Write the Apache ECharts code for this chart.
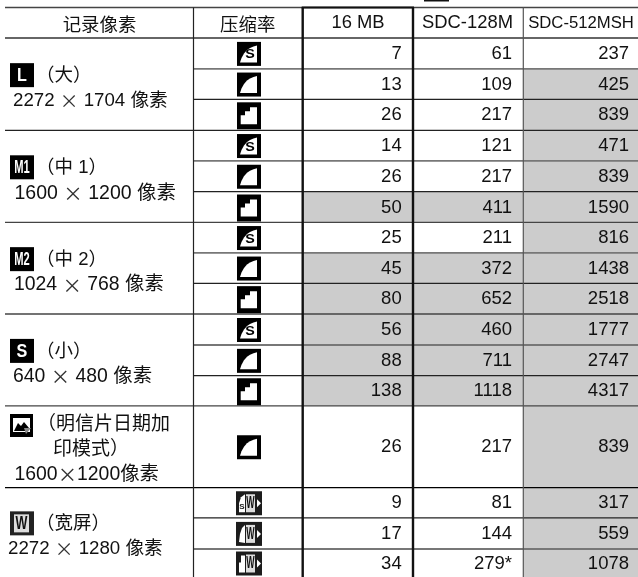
<!DOCTYPE html>
<html>
<head>
<meta charset="utf-8">
<title>记录像素</title>
<script src="https://cdn.jsdelivr.net/npm/echarts@6/dist/echarts.min.js"></script>
<style>
  html, body { margin: 0; padding: 0; background: #fff; }
  #main { width: 638px; height: 577px; }
</style>
</head>
<body>
<div id="main"></div>
<script>
// table contents
var headers = ["记录像素", "压缩率", "16 MB", "SDC-128M", "SDC-512MSH"];
var mb16 = [7, 13, 26, 14, 26, 50, 25, 45, 80, 56, 88, 138, 26, 9, 17, 34];
var sdc128 = [61, 109, 217, 121, 217, 411, 211, 372, 652, 460, 711, 1118, 217, 81, 144, "279*"];
var sdc512 = [237, 425, 839, 471, 839, 1590, 816, 1438, 2518, 1777, 2747, 4317, 839, 317, 559, 1078];
// 1 = grey cell
var mb16Shade = [0, 0, 0, 0, 0, 1, 0, 1, 1, 1, 1, 1, 0, 0, 0, 0];
var sdc128Shade = [0, 0, 0, 0, 0, 1, 0, 1, 1, 1, 1, 1, 0, 0, 0, 0];
var sdc512Shade = [0, 1, 1, 1, 1, 1, 1, 1, 1, 1, 1, 1, 1, 1, 1, 1];
// compression icon per row: s = superfine, f = fine, n = normal, w* = widescreen
var quality = ["s", "f", "n", "s", "f", "n", "s", "f", "n", "s", "f", "n", "f", "ws", "wf", "wn"];
var groupNames = ["（大）", "（中 1）", "（中 2）", "（小）", "（宽屏）"];
var groupSizes = ["2272 {x|×} 1704 像素", "1600 {x|×} 1200 像素", "1024 {x|×} 768 像素", "640 {x|×} 480 像素", "2272 {x|×} 1280 像素"];
var groupBadges = ["L", "M1", "M2", "S", "W"];
var postcardLines = ["（明信片日期加", "印模式）", "1600{x|×}1200像素"];

// layout, in page pixels on the hidden axes
var colEdges = [5, 193.5, 302.7, 413, 523.3, 638];
var rowEdges = [7.5, 38, 68.8, 99.3, 130.3, 160.8, 191.7, 222.3, 252.8, 283.3, 314, 345, 375.7, 405.8, 487.7, 517.8, 549, 577];
var rowLineColors = ["#444", "#333", "#777", "#222", "#222", "#777", "#222", "#444", "#777", "#222", "#444", "#777", "#222", "#444", "#000", "#222", "#777", null];
var rowLineWidths = [1.3, 1.3, 1.8, 1.2, 1.2, 1.8, 1.2, 1.3, 1.8, 1.2, 1.3, 1.8, 1.2, 1.3, 1.2, 1.2, 2, 0];
var groupRows = [[1, 4], [4, 7], [7, 10], [10, 13], [14, 17]];
var groupTextX = [13, 14.5, 14, 13, 8];
var groupTextSize = [18.7, 19.5, 19.4, 19.4, 18.7];
var rightX = [0, 0, 401.7, 512, 629];

var FONT = '"Liberation Sans","Noto Sans CJK SC",sans-serif';
var CJK = '"Noto Sans CJK SC",sans-serif';
var INK = "#111";

var rows = [];
for (var i = 0; i < mb16.length; i++) rows.push(i);

function txt(p, text, align, size) {
  var s = size || 18.5;
  return {
    type: "text",
    style: {
      text: String(text),
      x: p[0],
      y: p[1],
      fill: INK,
      fontSize: s,
      fontFamily: FONT,
      align: align || "left",
      verticalAlign: "middle",
      rich: { x: { fontFamily: CJK, fontSize: s, fill: "#333" } }
    }
  };
}

// squeezed bold letter used on the icons
function glyph(text, x, y, size, sx, fill) {
  return {
    type: "text", x: x, y: y, scaleX: sx,
    style: { text: text, x: 0, y: 0, fill: fill, fontSize: size, fontWeight: "bold", fontFamily: FONT, align: "center", verticalAlign: "middle" }
  };
}

function cellRect(api, c, r) {
  var a = api.coord([colEdges[c], rowEdges[r + 1]]);
  var b = api.coord([colEdges[c + 1], rowEdges[r + 2]]);
  return { x: a[0], y: a[1], width: b[0] - a[0], height: b[1] - a[1] };
}

function poly(points, fill) {
  return { type: "polygon", shape: { points: points }, style: { fill: fill || "#fff" } };
}

function box(w, h, fill) {
  return { type: "rect", shape: { x: 0, y: 0, width: w, height: h }, style: { fill: fill || "#000" } };
}

function qualityIcon(kind, center) {
  var kids;
  if (kind.charAt(0) === "w") {
    kids = [box(26, 24, "#1c1c1c")];
    if (kind === "ws") kids.push(poly([[3, 21], [3, 12], [5, 6], [9, 3], [9, 21]]));
    if (kind === "wf") kids.push(poly([[3, 20], [4, 12], [6, 6], [9, 3], [9, 21]]));
    if (kind === "wn") kids.push(poly([[3, 21], [3, 11], [5, 11], [5, 4], [9, 4], [9, 21]]));
    if (kind === "ws") kids.push(glyph("S", 6, 16, 8, 1, "#1c1c1c"));
    kids.push({ type: "rect", shape: { x: 10, y: 3, width: 9, height: 18 }, style: { fill: "#ddd" } });
    kids.push(glyph("W", 14.5, 12.5, 16, 0.55, "#111"));
    kids.push(poly([[21, 8], [25, 12], [21, 16]]));
    return { type: "group", x: center[0] - 15, y: center[1] - 12, children: kids };
  }
  if (kind === "n") {
    kids = [box(24, 27), poly([[3.7, 22], [3.7, 13], [8, 13], [8, 9], [13, 9], [13, 5], [20, 5], [20, 22]])];
    return { type: "group", x: center[0] - 14, y: center[1] - 13, children: kids };
  }
  kids = [box(24, 24), poly([[3, 20.5], [4.5, 16], [7, 11.5], [10, 8], [13, 6], [16.5, 4.5], [20, 3.5], [20, 20.5]])];
  if (kind === "s") kids.push(glyph("S", 13, 13, 13, 1.1, "#000"));
  return { type: "group", x: center[0] - 14, y: center[1] - 12, children: kids };
}

function badge(name, x, y) {
  var kids = [box(24, 24, name === "W" ? "#222" : "#000")];
  if (name === "W") {
    kids.push({ type: "rect", shape: { x: 4, y: 3, width: 15, height: 18 }, style: { fill: "#ddd" } });
    kids.push(glyph("W", 11.5, 12.5, 18, 0.7, "#111"));
  } else if (name.length > 1) {
    kids.push(glyph(name, 12, 12.5, 18, 0.62, "#fff"));
  } else {
    kids.push(glyph(name, 12, 12.5, 19, 0.85, "#fff"));
  }
  return { type: "group", x: x, y: y, children: kids };
}

function postcardBadge(x, y) {
  return {
    type: "group", x: x, y: y,
    children: [
      box(23, 23),
      { type: "rect", shape: { x: 3, y: 4, width: 17, height: 14 }, style: { fill: "#fff" } },
      poly([[4, 17], [8, 9], [11, 12], [14, 8], [19, 14], [16, 17]], "#000"),
      poly([[14, 14], [21, 14], [16, 20]], "#888")
    ]
  };
}

// grey cells
var shadeCells = [];
rows.forEach(function (r) {
  if (mb16Shade[r]) shadeCells.push([2, r]);
  if (sdc128Shade[r]) shadeCells.push([3, r]);
  if (sdc512Shade[r]) shadeCells.push([4, r]);
});

// group lines run the full width, the rest start at the compression column
var rule = [];
rowEdges.forEach(function (y, i) {
  if (!rowLineColors[i]) return;
  var innerOnly = i > 1 && (i < 14 ? (i - 1) % 3 !== 0 : i > 14);
  rule.push({ x1: innerOnly ? colEdges[1] : colEdges[0], x2: colEdges[5], y: y, color: rowLineColors[i], w: rowLineWidths[i] });
});

var option = {
  animation: false,
  grid: { left: 0, right: 0, top: 0, bottom: 0 },
  xAxis: { type: "value", min: 0, max: 638, show: false },
  yAxis: { type: "value", min: 0, max: 577, inverse: true, show: false },
  series: [
    {
      type: "custom", silent: true, clip: false, z: 1,
      data: shadeCells.map(function (d, i) { return i; }),
      renderItem: function (params, api) {
        var c = shadeCells[params.dataIndex];
        return { type: "rect", shape: cellRect(api, c[0], c[1]), style: { fill: "#cccccc" } };
      }
    },
    {
      // horizontal rules
      type: "custom", silent: true, clip: false, z: 2,
      data: rule.map(function (d, i) { return i; }),
      renderItem: function (params, api) {
        var l = rule[params.dataIndex];
        var a = api.coord([l.x1, l.y]);
        var b = api.coord([l.x2, l.y]);
        return { type: "line", shape: { x1: a[0], y1: a[1], x2: b[0], y2: b[1] }, style: { stroke: l.color, lineWidth: l.w } };
      }
    },
    {
      // vertical rules, the 16 MB column gets a heavy box
      type: "custom", silent: true, clip: false, z: 3,
      data: [1, 2, 3, 4],
      renderItem: function (params, api) {
        var c = params.dataIndex + 1;
        var heavy = c === 2 || c === 3;
        var a = api.coord([colEdges[c], rowEdges[0]]);
        var b = api.coord([colEdges[c], 577]);
        return {
          type: "line",
          shape: { x1: a[0], y1: a[1], x2: b[0], y2: b[1] },
          style: { stroke: heavy ? "#111" : (c === 1 ? "#222" : "#555"), lineWidth: heavy ? 2.4 : 1.2 }
        };
      }
    },
    {
      type: "custom", silent: true, clip: false, z: 3,
      data: [0, 1],
      renderItem: function (params, api) {
        if (params.dataIndex === 0) {
          // heavy top of the box
          var a = api.coord([colEdges[2] - 1, rowEdges[0]]);
          var b = api.coord([colEdges[3] + 1, rowEdges[0]]);
          return { type: "line", shape: { x1: a[0], y1: a[1], x2: b[0], y2: b[1] }, style: { stroke: "#111", lineWidth: 2.2 } };
        }
        // bit of a cut off icon at the top edge
        var p = api.coord([424, 0]);
        return { type: "rect", shape: { x: p[0], y: p[1], width: 25, height: 1.5 }, style: { fill: "#111" } };
      }
    },
    {
      // header texts
      type: "custom", silent: true, clip: false, z: 4,
      data: headers.map(function (d, i) { return i; }),
      renderItem: function (params, api) {
        var i = params.dataIndex;
        var cx = [99.5, 247.7, 358, 467.5, 581][i];
        return txt(api.coord([cx, i < 2 ? 25.5 : 23]), headers[i], "center", i === 4 ? 16.7 : 18.4);
      }
    },
    {
      // the three capacity columns
      type: "custom", silent: true, clip: false, z: 4,
      data: rows,
      renderItem: function (params, api) {
        var r = params.dataIndex;
        var y = (rowEdges[r + 1] + rowEdges[r + 2]) / 2 + 0.5;
        return {
          type: "group",
          children: [
            txt(api.coord([rightX[2], y]), mb16[r], "right"),
            txt(api.coord([rightX[3], y]), sdc128[r], "right"),
            txt(api.coord([rightX[4], y]), sdc512[r], "right")
          ]
        };
      }
    },
    {
      // compression icons
      type: "custom", silent: true, clip: false, z: 4,
      data: rows,
      renderItem: function (params, api) {
        var r = params.dataIndex;
        var y = (rowEdges[r + 1] + rowEdges[r + 2]) / 2 + 0.5;
        return qualityIcon(quality[r], api.coord([251, y]));
      }
    },
    {
      // left column groups
      type: "custom", silent: true, clip: false, z: 4,
      data: groupNames.map(function (d, i) { return i; }),
      renderItem: function (params, api) {
        var i = params.dataIndex;
        var mid = (rowEdges[groupRows[i][0]] + rowEdges[groupRows[i][1]]) / 2 + 3;
        var top = api.coord([10, mid - 13]);
        return {
          type: "group",
          children: [
            badge(groupBadges[i], top[0], top[1] - 11),
            txt(api.coord([36, mid - 11]), groupNames[i], "left"),
            txt(api.coord([groupTextX[i], mid + 14]), groupSizes[i], "left", groupTextSize[i])
          ]
        };
      }
    },
    {
      // postcard row
      type: "custom", silent: true, clip: false, z: 4,
      data: [0],
      renderItem: function (params, api) {
        var p = api.coord([10, 414]);
        return {
          type: "group",
          children: [
            postcardBadge(p[0], p[1]),
            txt(api.coord([37, 424.5]), postcardLines[0], "left", 19),
            txt(api.coord([53, 449.5]), postcardLines[1], "left", 19),
            txt(api.coord([14.5, 475]), postcardLines[2], "left", 19.4)
          ]
        };
      }
    }
  ]
};

var myChart = echarts.init(document.getElementById("main"));
myChart.setOption(option);
</script>
</body>
</html>
